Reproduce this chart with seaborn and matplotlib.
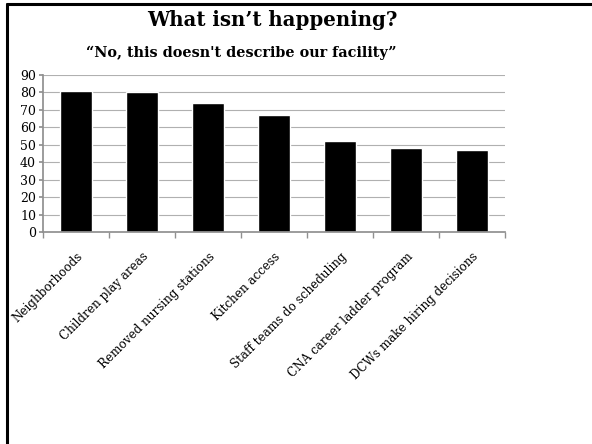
import matplotlib
matplotlib.use("Agg")
import matplotlib.pyplot as plt
import seaborn as sns
import pandas as pd
import numpy as np
from matplotlib.lines import Line2D

categories = ["Neighborhoods", "Children play areas", "Removed nursing stations",
              "Kitchen access", "Staff teams do scheduling", "CNA career ladder program",
              "DCWs make hiring decisions"]
values = [81.0, 80.5, 73.8, 67.1, 51.9, 48.2, 47.1]
yticks = [0, 10, 20, 30, 40, 50, 60, 70, 80, 90]

sns.set_theme(style="white")
plt.rcParams['font.family'] = ['DejaVu Serif']
plt.rcParams['text.color'] = 'black'
plt.rcParams['xtick.color'] = 'black'
plt.rcParams['ytick.color'] = 'black'

df = pd.DataFrame({"cat": categories, "val": values})

fig = plt.figure(figsize=(5.92, 4.44), dpi=100)
ax = fig.add_axes([43/592, 1-232/444, (505-43)/592, (232-75)/444])
sns.barplot(data=df, x="cat", y="val", color="black", width=0.47, ax=ax, saturation=1)

ax.set_ylim(0, 90)
ax.set_xlim(-0.5, len(categories) - 0.5)
ax.set_yticks(yticks)
ax.set_yticklabels([str(t) for t in yticks], fontsize=9)
ax.yaxis.grid(True, color="#b0b0b0", linewidth=0.8)
ax.set_axisbelow(True)
ax.set_xlabel("")
ax.set_ylabel("")
for s in ["top", "right"]:
    ax.spines[s].set_visible(False)
ax.spines["left"].set_color("#909090")
ax.spines["bottom"].set_color("#909090")
ax.tick_params(axis="y", left=True, length=3, color="#909090", labelcolor="black", pad=2)
ax.set_xticks(range(len(categories)))
ax.set_xticklabels(categories, rotation=45, ha="right", rotation_mode="anchor", fontsize=8.6)
ax.tick_params(axis="x", bottom=False, pad=7, labelcolor="black")
ax.set_xticks(np.arange(-0.5, len(categories)), minor=True)
ax.tick_params(axis="x", which="minor", bottom=True, length=4, color="#909090")

fig.text(272/592, 1-20/444, "What isn\u2019t happening?", ha="center", va="center",
         fontsize=14.2, fontweight="bold", color="black")
fig.text(241/592, 1-53/444, "\u201cNo, this doesn't describe our facility\u201d", ha="center", va="center",
         fontsize=10.4, fontweight="bold", color="black")

fig.add_artist(Line2D([7/592, 7/592], [0, 1-4/444], transform=fig.transFigure, color="black", linewidth=2.2))
fig.add_artist(Line2D([7/592, 1], [1-4/444, 1-4/444], transform=fig.transFigure, color="black", linewidth=2.2))

fig.savefig("out.png", dpi=100)
